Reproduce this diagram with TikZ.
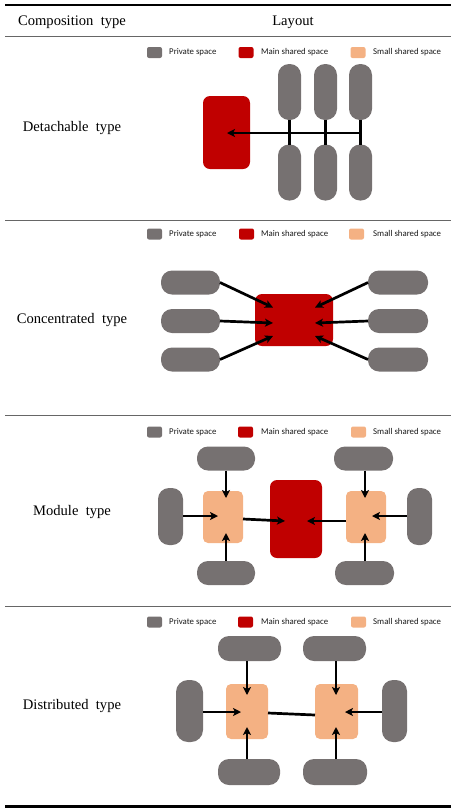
\documentclass[tikz,border=0pt]{standalone}
\usepackage{fontspec}
\setmainfont{Liberation Serif}
\newfontfamily\legfont{Carlito}
\usetikzlibrary{arrows.meta}
\definecolor{privgray}{HTML}{767171}
\definecolor{mainred}{HTML}{C00000}
\definecolor{smallpeach}{HTML}{F4B183}
\tikzset{
  box/.style={inner sep=0pt, outer sep=0pt, draw=none},
  priv/.style={box, fill=privgray},
  mainsp/.style={box, fill=mainred, rounded corners=7pt},
  smallsp/.style={box, fill=smallpeach, rounded corners=5pt},
  conn/.style={line width=2.7pt, black},
  arr/.style={conn, -{Stealth[length=8pt,width=8pt,inset=2pt]}},
  legsq/.style={box, minimum width=15pt, minimum height=11pt, rounded corners=2pt},
  legtxt/.style={anchor=west, inner sep=0pt, font=\legfont\fontsize{8.8}{10}\selectfont, text=black!90},
  lbl/.style={font=\fontsize{14.6}{16}\selectfont, inner sep=0pt},
  rule/.style={line width=0.8pt, black!60}
}
\newcommand{\legendrow}[4]{%
  \node[legsq, fill=privgray] (#1a) at (154.5,#2) {};
  \node[legtxt] (#1b) at (169,#2) {Private space};
  \node[legsq, fill=mainred] (#1c) at (#3,#2) {};
  \node[legtxt] (#1d) at (261,#2) {Main shared space};
  \node[legsq, fill=smallpeach] (#1e) at (#4,#2) {};
  \node[legtxt] (#1f) at (373,#2) {Small shared space};
}
\begin{document}
\begin{tikzpicture}[x=1pt,y=-1pt]
\useasboundingbox (0,0) rectangle (458,812);
% table rules
\draw[line width=1.8pt] (5,5) -- (451,5);
\draw[rule] (5,36) -- (451,36);
\draw[rule] (5,220) -- (451,220);
\draw[rule] (5,415) -- (451,415);
\draw[rule] (5,606) -- (451,606);
\draw[line width=3pt] (5,806) -- (451,806);
% header
\node[lbl] (h1) at (72,22) {Composition\ \ type};
\node[lbl] (h2) at (293,22) {Layout};
% row labels
\node[lbl] (r1) at (72,128) {Detachable\ \ type};
\node[lbl] (r2) at (72,320) {Concentrated\ \ type};
\node[lbl] (r3) at (72,512) {Module\ \ type};
\node[lbl] (r4) at (72,706) {Distributed\ \ type};

% ---------- Panel 1: detachable ----------
\legendrow{la}{52.5}{246}{358}
\node[mainsp, minimum width=47pt, minimum height=73pt] (d0) at (226.5,132.5) {};
\node[priv, minimum width=23pt, minimum height=56pt, rounded corners=11pt] (dt1) at (289.5,92) {};
\node[priv, minimum width=23pt, minimum height=56pt, rounded corners=11pt] (dt2) at (325.5,92) {};
\node[priv, minimum width=23pt, minimum height=56pt, rounded corners=11pt] (dt3) at (360.5,92) {};
\node[priv, minimum width=23pt, minimum height=56pt, rounded corners=11pt] (db1) at (289.5,172.5) {};
\node[priv, minimum width=23pt, minimum height=56pt, rounded corners=11pt] (db2) at (325.5,172.5) {};
\node[priv, minimum width=23pt, minimum height=56pt, rounded corners=11pt] (db3) at (360.5,172.5) {};
\draw[conn] (dt1.south) -- (db1.north);
\draw[conn] (dt2.south) -- (db2.north);
\draw[conn] (dt3.south) -- (db3.north);
\coordinate (dj) at (361.5,133);
\coordinate (dtip) at (227,133);
\draw[arr] (dj) -- (dtip);

% ---------- Panel 2: concentrated ----------
\legendrow{lb}{234}{246.5}{356.5}
\node[mainsp, minimum width=78pt, minimum height=52pt] (c0) at (294,320) {};
\foreach \n/\y in {1/282.5, 2/321, 3/359.5} {
  \node[priv, minimum width=59pt, minimum height=24pt, rounded corners=11pt] (cl\n) at (190.5,\y) {};
  \node[priv, minimum width=60pt, minimum height=24pt, rounded corners=11pt] (cr\n) at (398,\y) {};
}
\coordinate (ctl1) at (273,307.5);
\coordinate (ctl2) at (273,323);
\coordinate (ctl3) at (273,336);
\coordinate (ctr1) at (315,307.5);
\coordinate (ctr2) at (315,323);
\coordinate (ctr3) at (315,336);
\draw[arr] (cl1.east) -- (ctl1);
\draw[arr] (cl2.east) -- (ctl2);
\draw[arr] (cl3.east) -- (ctl3);
\draw[arr] (cr1.west) -- (ctr1);
\draw[arr] (cr2.west) -- (ctr2);
\draw[arr] (cr3.west) -- (ctr3);

% ---------- Panel 3: module ----------
\legendrow{lc}{432}{245.5}{358.5}
\node[mainsp, minimum width=52pt, minimum height=78pt] (m0) at (296,519) {};
\node[smallsp, minimum width=40pt, minimum height=52pt] (ms1) at (223,517) {};
\node[smallsp, minimum width=40pt, minimum height=52pt] (ms2) at (366,517) {};
\node[priv, minimum width=58pt, minimum height=24pt, rounded corners=11pt] (mt1) at (226,458.5) {};
\node[priv, minimum width=59pt, minimum height=24pt, rounded corners=11pt] (mt2) at (363.5,458.5) {};
\node[priv, minimum width=58pt, minimum height=24pt, rounded corners=11pt] (mb1) at (226,573) {};
\node[priv, minimum width=59pt, minimum height=24pt, rounded corners=11pt] (mb2) at (364.5,573) {};
\node[priv, minimum width=25pt, minimum height=57pt, rounded corners=11pt] (ml) at (170.5,516.5) {};
\node[priv, minimum width=25pt, minimum height=57pt, rounded corners=11pt] (mr) at (419.5,516.5) {};
\coordinate (m1t) at (226,498);
\coordinate (m1b) at (226,533);
\coordinate (m1l) at (218,516);
\coordinate (m2t) at (365,498);
\coordinate (m2b) at (365,533);
\coordinate (m2r) at (372,516);
\coordinate (m0l) at (285,521);
\coordinate (m0r) at (307,521);
\draw[arr] (mt1.south -| m1t) -- (m1t);
\draw[arr] (mb1.north -| m1b) -- (m1b);
\draw[arr] (ml.east |- m1l) -- (m1l);
\draw[arr] (mt2.south -| m2t) -- (m2t);
\draw[arr] (mb2.north -| m2b) -- (m2b);
\draw[arr] (mr.west |- m2r) -- (m2r);
\draw[arr] (ms1.east |- 0,519) -- (m0l);
\draw[arr] (ms2.west |- m0r) -- (m0r);

% ---------- Panel 4: distributed ----------
\legendrow{ld}{622}{245.5}{358.5}
\node[smallsp, minimum width=42pt, minimum height=55pt] (ds1) at (247,711.5) {};
\node[smallsp, minimum width=43pt, minimum height=55pt] (ds2) at (336.5,711.5) {};
\node[priv, minimum width=63pt, minimum height=25pt, rounded corners=11pt] (dpt1) at (249.5,648.5) {};
\node[priv, minimum width=63pt, minimum height=25pt, rounded corners=11pt] (dpt2) at (334.5,648.5) {};
\node[priv, minimum width=62pt, minimum height=26pt, rounded corners=11pt] (dpb1) at (249,772) {};
\node[priv, minimum width=64pt, minimum height=26pt, rounded corners=11pt] (dpb2) at (335,772) {};
\node[priv, minimum width=27pt, minimum height=62pt, rounded corners=12pt] (dpl) at (189.5,711) {};
\node[priv, minimum width=25pt, minimum height=62pt, rounded corners=11pt] (dpr) at (394.5,711) {};
\coordinate (d1t) at (247,695);
\coordinate (d1b) at (247,727);
\coordinate (d1l) at (241,712);
\coordinate (d2t) at (336,695);
\coordinate (d2b) at (336,727);
\coordinate (d2r) at (345,712);
\draw[arr] (dpt1.south -| d1t) -- (d1t);
\draw[arr] (dpb1.north -| d1b) -- (d1b);
\draw[arr] (dpl.east |- d1l) -- (d1l);
\draw[arr] (dpt2.south -| d2t) -- (d2t);
\draw[arr] (dpb2.north -| d2b) -- (d2b);
\draw[arr] (dpr.west |- d2r) -- (d2r);
\draw[conn] (ds1.east |- 0,713) -- (ds2.west |- 0,715);
\end{tikzpicture}
\end{document}
